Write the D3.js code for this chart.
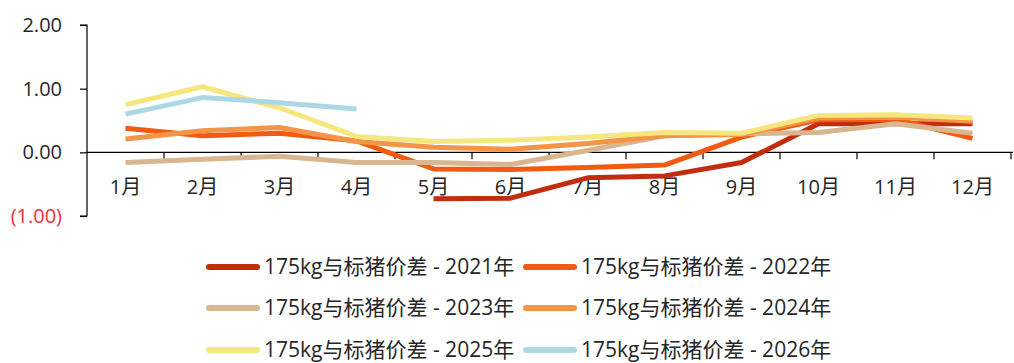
<!DOCTYPE html>
<html>
<head>
<meta charset="utf-8">
<script src="https://cdn.jsdelivr.net/npm/d3@7"></script>
<style>
  html, body { margin: 0; padding: 0; background: #fff; }
  svg { display: block; font-family: "Open Sans", "Noto Sans CJK SC", sans-serif; }
</style>
</head>
<body>
<svg id="chart" width="1014" height="363"></svg>
<script>
// Months on the category axis
const months = ["1月", "2月", "3月", "4月", "5月", "6月", "7月", "8月", "9月", "10月", "11月", "12月"];

// 175kg vs standard hog price spread (元/kg), one array per year; null = no data
const s2021 = [null, null, null, null, -0.73, -0.72, -0.40, -0.37, -0.16, 0.45, 0.45, 0.45];
const s2022 = [0.38, 0.26, 0.30, 0.18, -0.26, -0.27, -0.24, -0.20, 0.24, 0.51, 0.52, 0.22];
const s2023 = [-0.16, -0.11, -0.06, -0.16, -0.16, -0.19, 0.03, 0.26, 0.29, 0.31, 0.45, 0.30];
const s2024 = [0.21, 0.34, 0.39, 0.17, 0.08, 0.05, 0.14, 0.26, 0.28, 0.54, 0.55, 0.49];
const s2025 = [0.75, 1.03, 0.70, 0.25, 0.17, 0.19, 0.24, 0.31, 0.30, 0.58, 0.59, 0.54];
const s2026 = [0.60, 0.86, 0.78, 0.68, null, null, null, null, null, null, null, null];

const seriesNames = ["175kg与标猪价差 - 2021年", "175kg与标猪价差 - 2022年", "175kg与标猪价差 - 2023年",
                     "175kg与标猪价差 - 2024年", "175kg与标猪价差 - 2025年", "175kg与标猪价差 - 2026年"];
const seriesColors = ["#c22d10", "#f25a12", "#d8b790", "#f39446", "#f6e67e", "#acd8e4"];
const seriesValues = [s2021, s2022, s2023, s2024, s2025, s2026];

const yTicks = [-1, 0, 1, 2];
const fmt = v => v < 0 ? "(" + Math.abs(v).toFixed(2) + ")" : v.toFixed(2);

const svg = d3.select("#chart");
const plotLeft = 87, plotRight = 1011, plotTop = 25, plotBottom = 216;

const x = d3.scaleBand().domain(months).range([plotLeft, plotRight]);
const y = d3.scaleLinear().domain([-1, 2]).range([plotBottom, plotTop]);

// Y axis
const yAxis = svg.append("g").attr("transform", `translate(${plotLeft},0)`)
  .call(d3.axisLeft(y).tickValues(yTicks).tickSize(7).tickFormat(fmt));
yAxis.select(".domain").attr("stroke", "#000").attr("stroke-width", 1.2)
  .attr("d", `M-7,${y(2)}H0V${y(-1)}H-7`);
yAxis.selectAll(".tick line").attr("stroke", "#000").attr("stroke-width", 1.2);
yAxis.selectAll(".tick text")
  .attr("x", -25)
  .attr("font-family", "Open Sans, Noto Sans CJK SC, sans-serif")
  .attr("font-size", 20)
  .attr("fill", d => d < 0 ? "#e8323c" : "#262626");

// X axis along zero, ticks between categories
const xAxisG = svg.append("g").attr("transform", `translate(0,${y(0)})`);
xAxisG.append("line").attr("x1", plotLeft).attr("x2", plotRight + 2).attr("stroke", "#000").attr("stroke-width", 1.2);
xAxisG.selectAll("line.tk").data(months)
  .join("line").attr("class", "tk")
  .attr("x1", d => x(d) + x.bandwidth())
  .attr("x2", d => x(d) + x.bandwidth())
  .attr("y1", 0).attr("y2", 7)
  .attr("stroke", "#000").attr("stroke-width", 1.2);
svg.append("g").selectAll("text").data(months).join("text")
  .attr("x", d => x(d) + x.bandwidth() / 2)
  .attr("y", 187)
  .attr("dy", "0.35em")
  .attr("text-anchor", "middle")
  .attr("font-size", 20)
  .attr("fill", "#262626")
  .text(d => d);

// Lines
const line = d3.line()
  .defined(d => d.v !== null)
  .x(d => x(d.m) + x.bandwidth() / 2)
  .y(d => y(d.v));

svg.append("g").selectAll("path").data(seriesValues).join("path")
  .attr("d", vals => line(vals.map((v, i) => ({ m: months[i], v }))))
  .attr("fill", "none")
  .attr("stroke", (d, i) => seriesColors[i])
  .attr("stroke-width", 5)
  .attr("stroke-linejoin", "round");

// Legend: 2 columns x 3 rows
const legend = svg.append("g");
const colX = [206, 523];
const rowY = [267, 308, 350];
seriesNames.forEach((name, i) => {
  const cx = colX[i % 2], cy = rowY[Math.floor(i / 2)];
  legend.append("line")
    .attr("x1", cx + 3).attr("x2", cx + 51).attr("y1", cy).attr("y2", cy)
    .attr("stroke", seriesColors[i]).attr("stroke-width", 6).attr("stroke-linecap", "round");
  legend.append("text")
    .attr("x", cx + 58).attr("y", cy).attr("dy", "0.35em")
    .attr("font-size", 21).attr("fill", "#262626")
    .text(name);
});
</script>
</body>
</html>
